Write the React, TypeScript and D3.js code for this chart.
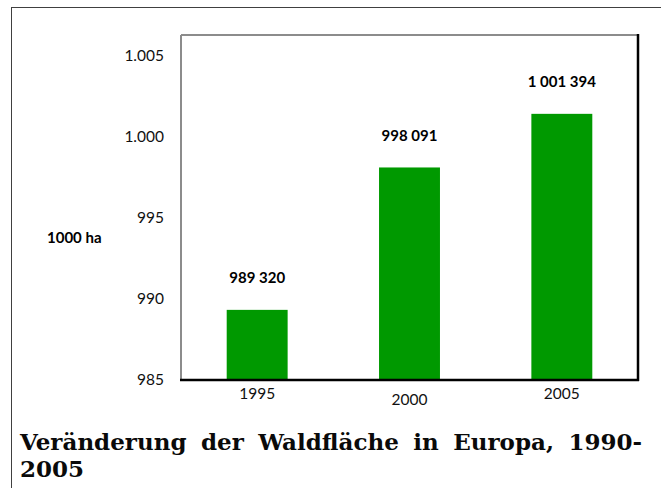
import React, { useLayoutEffect, useRef } from 'react';
import * as d3 from 'd3';

// Waldfläche Europa, 1000 ha
const years = ['1995', '2000', '2005'];
const areas = [989.32, 998.091, 1001.394];
const areaLabels = ['989 320', '998 091', '1 001 394'];
const yTicks = [985, 990, 995, 1000, 1005];
const yTickLabels = ['985', '990', '995', '1.000', '1.005'];
const titleLine1 = 'Veränderung der Waldfläche in Europa, 1990-';
const titleLine2 = '2005';

const W = 661, H = 488;
const plot = { left: 181, right: 638, top: 35, bottom: 380 };

const x = d3.scaleBand()
  .domain(years)
  .range([plot.left, plot.right])
  .paddingInner(0.6)
  .paddingOuter(0.3);

const y = d3.scaleLinear()
  .domain([985, 1006.25])
  .range([plot.bottom, plot.top]);

const labelFont = 'Lato, "Open Sans", sans-serif';

export default function App() {
  const titleRef = useRef<SVGGElement>(null);

  // spread the words of line 1 over the full width (justified like the source)
  useLayoutEffect(() => {
    const g = d3.select(titleRef.current);
    const words = g.selectAll<SVGTextElement, unknown>('text.w1');
    const widths: number[] = [];
    words.each(function () { widths.push(this.getComputedTextLength()); });
    const x0 = 20, x1 = 642;
    const gap = (x1 - x0 - d3.sum(widths)) / (widths.length - 1);
    let cx = x0;
    words.each(function (_, i) {
      d3.select(this).attr('x', cx);
      cx += widths[i] + gap;
    });
  }, []);

  return (
    <svg width={W} height={H} style={{ position: 'absolute', left: 0, top: 0, background: '#fff' }}>
      <rect x={11.5} y={7.5} width={700} height={500} fill="none" stroke="#404040" strokeWidth={1} />

      {yTicks.map((t, i) => (
        <text key={t} x={164} y={y(t)} dy="0.35em" textAnchor="end"
          fontFamily={labelFont} fontSize={15.5} fill="#111">{yTickLabels[i]}</text>
      ))}

      <text x={47} y={238} dy="0.35em" fontFamily={labelFont} fontSize={15} fontWeight="bold">1000 ha</text>

      {years.map((yr, i) => (
        <rect key={yr} x={x(yr)} y={y(areas[i])} width={x.bandwidth()}
          height={plot.bottom - y(areas[i])} fill="#009900" />
      ))}

      {years.map((yr, i) => (
        <text key={yr} x={x(yr)! + x.bandwidth() / 2} y={y(areas[i]) - 32} dy="0.35em"
          textAnchor="middle" fontFamily={labelFont} fontSize={15} fontWeight="bold">{areaLabels[i]}</text>
      ))}

      {/* plot frame: grey top/left, black right/bottom */}
      <line x1={plot.left} y1={plot.top} x2={plot.right} y2={plot.top} stroke="#8c8c8c" strokeWidth={2} />
      <line x1={plot.left} y1={plot.top} x2={plot.left} y2={plot.bottom} stroke="#8c8c8c" strokeWidth={2} />
      <line x1={plot.right} y1={plot.top - 1} x2={plot.right} y2={plot.bottom + 1} stroke="#000" strokeWidth={2.5} />
      <line x1={plot.left - 1} y1={plot.bottom} x2={plot.right + 1} y2={plot.bottom} stroke="#000" strokeWidth={2.5} />

      {years.map((yr, i) => (
        <text key={yr} x={x(yr)! + x.bandwidth() / 2} y={i % 2 ? 400 : 394} dy="0.35em"
          textAnchor="middle" fontFamily={labelFont} fontSize={15.5} fill="#111">{yr}</text>
      ))}

      <g ref={titleRef} fontFamily='"DejaVu Serif", serif' fontWeight="bold" fontSize={23} fill="#0a0a0a">
        {titleLine1.split(' ').map((w, i) => (
          <text key={i} className="w1" x={20} y={450}>{w}</text>
        ))}
        <text x={20} y={477}>{titleLine2}</text>
      </g>
    </svg>
  );
}
